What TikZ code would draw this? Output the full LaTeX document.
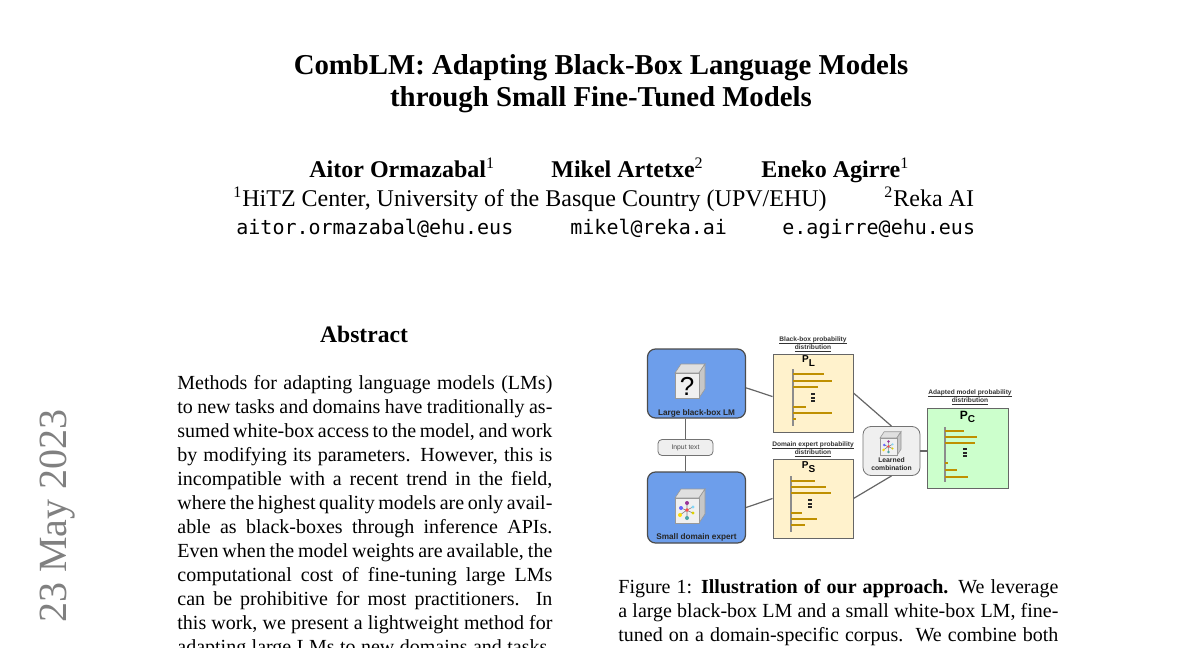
\documentclass[tikz,border=0pt]{standalone}
\usepackage{fontspec}
\setmainfont{Liberation Serif}
\setsansfont{Liberation Sans}
\setmonofont{DejaVu Sans Mono}
\definecolor{lmblue}{HTML}{6D9EEB}
\definecolor{distyel}{HTML}{FFF2CC}
\definecolor{adgreen}{HTML}{CCFFCC}
\definecolor{bargold}{HTML}{BF9000}
\definecolor{combgray}{HTML}{EFEFEF}
\definecolor{stampgray}{HTML}{808080}
\newcommand{\mcube}[4]{%
  \begin{scope}[shift={(#1,#2)},scale=#3]
    \draw[cubeedge,fill=black!12] (0,0) -- ++(6,-9) -- ++(24,0) -- ++(-6,9) -- cycle;
    \draw[cubeedge,fill=black!22] (24,0) -- ++(6,-9) -- ++(0,25) -- ++(-6,9) -- cycle;
    \draw[cubeedge,fill=black!6] (0,0) rectangle (24,25);
    #4
  \end{scope}}
\newcommand{\molec}{%
  \draw[gray,line width=0.3pt] (5,17) -- (12,12) -- (12,5) (6,10) -- (18,15) (12,12) -- (12,20) (18,9) -- (12,12);
  \fill[violet!80] (12,5) circle[radius=2];
  \fill[blue!60] (6,10) circle[radius=2];
  \fill[cyan!50] (18,9) circle[radius=1.6];
  \fill[yellow!80!orange] (5,17) circle[radius=2];
  \fill[teal!70] (12,20) circle[radius=2];
  \fill[yellow!70!olive] (18,15) circle[radius=1.6];
  \fill[red!70] (12,12) circle[radius=1.8];}
\newcommand{\vdotbar}[2]{\foreach \d in {0,3.6,7.2} \fill[black!85] (#1-1.6,#2+\d) rectangle ++(3.2,2.2);}
\newcommand{\ulin}[1]{\setbox0\hbox{#1}\rlap{\rule[-0.55pt]{\wd0}{0.22pt}}\box0}

\begin{document}
\begin{tikzpicture}[x=0.5pt,y=-0.5pt,
  txt/.style={inner sep=0pt,anchor=base},
  model/.style={draw=black!70,line width=0.6pt,fill=lmblue,rounded corners=4pt,minimum width=49pt,minimum height=34.5pt},
  dist/.style={draw=black!60,line width=0.5pt,fill=distyel,minimum width=40pt,minimum height=39pt},
  pill/.style={draw=black!55,line width=0.4pt,fill=combgray,rounded corners=#1},
  link/.style={draw=black!60,line width=0.6pt},
  axis/.style={draw=black!45,line width=0.8pt},
  bar/.style={draw=bargold,line width=1.1pt},
  cubeedge/.style={draw=black!40,line width=0.3pt},
  figlbl/.style={inner sep=0pt,font=\sffamily\bfseries\fontsize{4.1}{5}\selectfont,text=black!85},
  disttitle/.style={inner sep=0pt,align=center,font=\sffamily\bfseries\fontsize{3.3}{4}\selectfont,text=black!80},
  plbl/.style={inner sep=0pt,font=\sffamily\bfseries\fontsize{5}{6}\selectfont}]
\fill[white] (0,0) rectangle (1200,648);
\useasboundingbox (0,0) rectangle (1200,648);
\clip (0,0) rectangle (1200,648);

% title block
\node[txt,font=\fontsize{14.4}{17}\selectfont\bfseries] (title1) at (601,75) {CombLM: Adapting Black-Box Language Models};
\node[txt,font=\fontsize{14.4}{17}\selectfont\bfseries] (title2) at (601,106) {through Small Fine-Tuned Models};
\node[txt,anchor=base west,font=\fontsize{12}{14}\selectfont\bfseries] (auth1) at (309,177) {Aitor Ormazabal{\mdseries\textsuperscript{1}}};
\node[txt,anchor=base west,font=\fontsize{12}{14}\selectfont\bfseries] (auth2) at (551,177) {Mikel Artetxe{\mdseries\textsuperscript{2}}};
\node[txt,anchor=base west,font=\fontsize{12}{14}\selectfont\bfseries] (auth3) at (761,177) {Eneko Agirre{\mdseries\textsuperscript{1}}};
\node[txt,anchor=base west,font=\fontsize{12}{14}\selectfont] (affil1) at (233,206) {\textsuperscript{1}HiTZ Center, University of the Basque Country (UPV/EHU)};
\node[txt,anchor=base west,font=\fontsize{12}{14}\selectfont] (affil2) at (884,206) {\textsuperscript{2}Reka AI};
\node[txt,anchor=base west,font=\fontsize{10}{12}\selectfont\ttfamily] (mail1) at (236,234) {aitor.ormazabal@ehu.eus};
\node[txt,anchor=base west,font=\fontsize{10}{12}\selectfont\ttfamily] (mail2) at (570,234) {mikel@reka.ai};
\node[txt,anchor=base west,font=\fontsize{10}{12}\selectfont\ttfamily] (mail3) at (782,234) {e.agirre@ehu.eus};

% arxiv stamp
\node[txt,rotate=90,text=stampgray,font=\fontsize{20}{24}\selectfont] (stamp) at (66,516) {23 May 2023};

% abstract
\node[txt,font=\fontsize{11.8}{14}\selectfont\bfseries] (abshead) at (364,342) {Abstract};
\foreach \line [count=\i] in {
  {Methods for adapting language models (LMs)},
  {to new tasks and domains have traditionally as-},
  {sumed white-box access to the model, and work},
  {by modifying its parameters. However, this is},
  {incompatible with a recent trend in the field,},
  {where the highest quality models are only avail-},
  {able as black-boxes through inference APIs.},
  {Even when the model weights are available, the},
  {computational cost of fine-tuning large LMs},
  {can be prohibitive for most practitioners.\ \ In},
  {this work, we present a lightweight method for},
  {adapting large LMs to new domains and tasks,}}
  \node[txt,anchor=base west,font=\fontsize{10}{12}\selectfont] (abs\i) at (177,389+24*\i-24) {\makebox[187.5pt][s]{\line}};

% figure
\node[model] (blm) at (696.5,383.5) {};
\node[pill=2pt,minimum width=27.5pt,minimum height=8pt,font=\sffamily\fontsize{3.4}{4}\selectfont,text=black!70,inner sep=0pt] (inp) at (685.5,447.5) {Input text};
\node[model,minimum height=35.5pt] (sde) at (696.5,507.5) {};
\node[dist] (pl) at (813,393) {};
\node[dist,minimum height=39.5pt] (ps) at (813,498.5) {};
\node[pill=4pt,minimum width=28.5pt,minimum height=24.5pt] (comb) at (891.5,451) {};
\node[dist,fill=adgreen,minimum width=40.5pt,minimum height=40pt] (pc) at (967.5,448) {};

\path[link] (blm.355) edge (pl.185)
  (sde.east) edge (ps.west)
  (pl.east) edge (comb.north)
  (ps.east) edge (comb.south)
  (comb.east) edge (comb.east -| pc.west)
  (inp.north) edge (inp.north |- blm.south)
  (inp.south) edge (inp.south |- sde.north);

\mcube{675}{373}{1}{\node[inner sep=0pt,font=\sffamily\fontsize{13}{14}\selectfont] (qmark) at (12,13) {?};}
\mcube{675}{498}{1}{\molec}
\mcube{880}{438}{0.7}{\molec}

\node[figlbl] (blmtxt) at (696.5,413) {Large black-box LM};
\node[figlbl] (sdetxt) at (696.5,537) {Small domain expert};
\node[figlbl,align=center,font=\sffamily\bfseries\fontsize{3.4}{4}\selectfont] (combtxt) at (891.5,464) {Learned\\combination};

\node[disttitle] (pltitle) at (813,344) {\ulin{Black-box probability}\\\ulin{distribution}};
\node[disttitle] (pstitle) at (813,449) {\ulin{Domain expert probability}\\\ulin{distribution}};
\node[disttitle] (pctitle) at (970,397) {\ulin{Adapted model probability}\\\ulin{distribution}};

\node[plbl] (plname) at (809,361) {P\textsubscript{L}};
\node[plbl] (psname) at (809,467) {P\textsubscript{S}};
\node[plbl,font=\sffamily\bfseries\fontsize{6}{7}\selectfont] (pcname) at (968,417) {P\textsubscript{C}};

\draw[axis] (793,369) -- (793,426);
\foreach \y/\l in {374/31,381/39,387/25,407/13,413/39,419/3} \draw[bar] (793,\y) -- ++(\l,0);
\vdotbar{813}{393}
\draw[axis] (791,476) -- (791,532);
\foreach \y/\l in {481/24,487/35,493/40,513/11,519/26,525/14} \draw[bar] (791,\y) -- ++(\l,0);
\vdotbar{810}{499}
\draw[axis] (945,427) -- (945,482);
\foreach \y/\l in {431/19,437/32,443/30,463/3,470/12,477/23} \draw[bar] (945,\y) -- ++(\l,0);
\vdotbar{965}{448}

% caption
\foreach \line [count=\i] in {
  {Figure 1: \textbf{Illustration of our approach.} We leverage},
  {a large black-box LM and a small white-box LM, fine-},
  {tuned on a domain-specific corpus.\ \ We combine both}}
  \node[txt,anchor=base west,font=\fontsize{10}{12}\selectfont] (cap\i) at (618,593+24*\i-24) {\makebox[220pt][s]{\line}};
\end{tikzpicture}
\end{document}
